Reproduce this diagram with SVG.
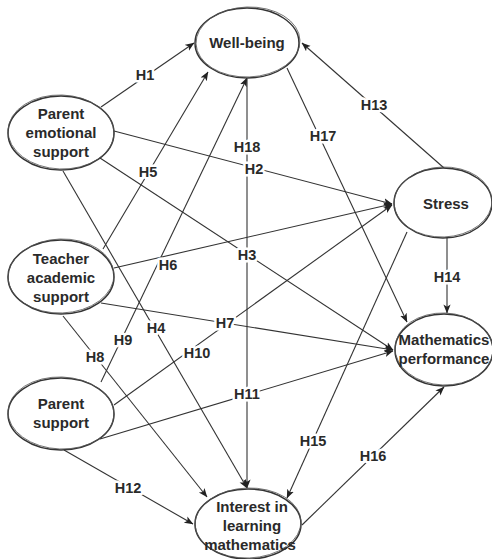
<svg xmlns="http://www.w3.org/2000/svg" width="492" height="559" viewBox="0 0 492 559">
  <style>
    .edge { stroke: #333; stroke-width: 1.1; fill: none; marker-end: url(#arrow); }
    .lbl { font-family: "Liberation Sans", Arial, sans-serif; font-weight: bold; font-size: 14.5px; fill: #2a2a2a; text-anchor: middle; paint-order: stroke; stroke: #fff; stroke-width: 5px; stroke-linejoin: round; }
    .node ellipse.body { fill: #fff; stroke: #333; stroke-width: 1.5; }
    .node ellipse.sketch { fill: none; stroke: #555; stroke-width: 0.8; }
    .node text { font-family: "Liberation Sans", Arial, sans-serif; font-weight: bold; font-size: 15px; fill: #2a2a2a; text-anchor: middle; }
  </style>
  <defs>
    <marker id="arrow" viewBox="0 0 10 10" refX="9.5" refY="5" markerWidth="9" markerHeight="9" markerUnits="userSpaceOnUse" orient="auto">
      <path d="M0,1 L10,5 L0,9 L2.5,5 z" fill="#222"/>
    </marker>
  </defs>
  <rect width="492" height="559" fill="#fff"/>

  <g id="connectors">
    <line class="edge" x1="101" y1="107" x2="194" y2="43"/>
    <line class="edge" x1="114" y1="131" x2="392" y2="204"/>
    <line class="edge" x1="100" y1="158" x2="393" y2="350"/>
    <line class="edge" x1="63" y1="171" x2="247" y2="488"/>
    <line class="edge" x1="103" y1="249" x2="208" y2="72"/>
    <line class="edge" x1="114" y1="268" x2="392" y2="204"/>
    <line class="edge" x1="101" y1="303" x2="393" y2="350"/>
    <line class="edge" x1="63" y1="316" x2="207" y2="497"/>
    <line class="edge" x1="101" y1="382" x2="247" y2="78"/>
    <line class="edge" x1="114" y1="405" x2="392" y2="205"/>
    <line class="edge" x1="100" y1="439" x2="393" y2="351"/>
    <line class="edge" x1="64" y1="450" x2="193" y2="524"/>
    <line class="edge" x1="444" y1="168" x2="302" y2="43"/>
    <line class="edge" x1="447" y1="237" x2="447" y2="313"/>
    <line class="edge" x1="407" y1="232" x2="287" y2="498"/>
    <line class="edge" x1="302" y1="525" x2="444" y2="387"/>
    <line class="edge" x1="287" y1="68" x2="407" y2="322"/>
    <line class="edge" x1="247" y1="79" x2="247" y2="488"/>

    <text class="lbl" x="145" y="80">H1</text>
    <text class="lbl" x="254" y="174">H2</text>
    <text class="lbl" x="247" y="260">H3</text>
    <text class="lbl" x="156" y="333">H4</text>
    <text class="lbl" x="148" y="177">H5</text>
    <text class="lbl" x="168" y="270">H6</text>
    <text class="lbl" x="225" y="328">H7</text>
    <text class="lbl" x="95" y="362">H8</text>
    <text class="lbl" x="123" y="345">H9</text>
    <text class="lbl" x="197" y="358">H10</text>
    <text class="lbl" x="247" y="399">H11</text>
    <text class="lbl" x="128" y="493">H12</text>
    <text class="lbl" x="374" y="110">H13</text>
    <text class="lbl" x="447" y="282">H14</text>
    <text class="lbl" x="313" y="446">H15</text>
    <text class="lbl" x="373" y="461">H16</text>
    <text class="lbl" x="323" y="141">H17</text>
    <text class="lbl" x="247" y="152">H18</text>
  </g>

  <g id="well-being" class="node">
    <ellipse class="body" cx="247" cy="43" rx="52" ry="35"/>
    <ellipse class="sketch" cx="248" cy="42" rx="52" ry="35" transform="rotate(-2 248 42)"/>
    <text x="247" y="48">Well-being</text>
  </g>

  <g id="parent-emotional-support" class="node">
    <ellipse class="body" cx="61" cy="133" rx="53" ry="37"/>
    <ellipse class="sketch" cx="61" cy="132" rx="53" ry="37" transform="rotate(2 61 132)"/>
    <text x="61" y="119">Parent</text>
    <text x="61" y="138">emotional</text>
    <text x="61" y="157">support</text>
  </g>

  <g id="teacher-academic-support" class="node">
    <ellipse class="body" cx="61" cy="277" rx="53" ry="37"/>
    <ellipse class="sketch" cx="61" cy="276" rx="53" ry="37" transform="rotate(-2 61 276)"/>
    <text x="61" y="264">Teacher</text>
    <text x="61" y="283">academic</text>
    <text x="61" y="302">support</text>
  </g>

  <g id="parent-support" class="node">
    <ellipse class="body" cx="61" cy="414" rx="53" ry="36"/>
    <ellipse class="sketch" cx="61" cy="413" rx="53" ry="36" transform="rotate(2 61 413)"/>
    <text x="61" y="409">Parent</text>
    <text x="61" y="428">support</text>
  </g>

  <g id="stress" class="node">
    <ellipse class="body" cx="443" cy="203" rx="49" ry="35"/>
    <ellipse class="sketch" cx="443" cy="202" rx="49" ry="35" transform="rotate(-2 443 202)"/>
    <text x="446" y="209">Stress</text>
  </g>

  <g id="mathematics-performance" class="node">
    <ellipse class="body" cx="444" cy="350" rx="49" ry="36"/>
    <ellipse class="sketch" cx="444" cy="349" rx="49" ry="36" transform="rotate(2 444 349)"/>
    <text x="444" y="345">Mathematics</text>
    <text x="444" y="364">performance</text>
  </g>

  <g id="interest-in-learning-mathematics" class="node">
    <ellipse class="body" cx="248" cy="524" rx="53" ry="35"/>
    <ellipse class="sketch" cx="248" cy="523" rx="53" ry="35" transform="rotate(-2 248 523)"/>
    <text x="252" y="512">Interest in</text>
    <text x="252" y="531">learning</text>
    <text x="250" y="550">mathematics</text>
  </g>
</svg>
